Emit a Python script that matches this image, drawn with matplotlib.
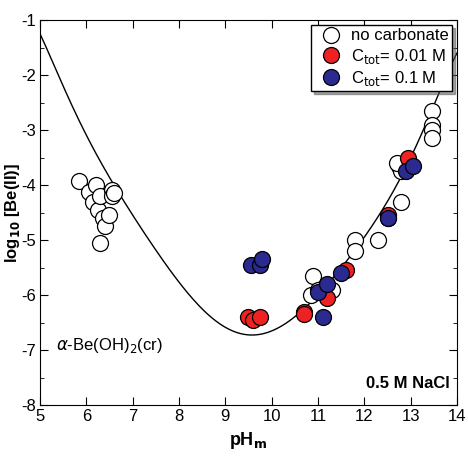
import numpy as np
import matplotlib.pyplot as plt
from matplotlib.ticker import MultipleLocator

# solubility curve
curve_ph = [5, 5.5, 6, 6.5, 7, 7.5, 8, 8.5, 9, 9.5, 10, 10.5, 11, 11.5, 12, 12.5, 13, 13.5, 14]
curve_be = [-1.25, -2.2, -3.1, -3.85, -4.55, -5.2, -5.75, -6.25, -6.6, -6.72, -6.65, -6.4,
            -6.0, -5.5, -4.95, -4.3, -3.5, -2.55, -1.6]

white_ph = [5.85, 6.05, 6.2, 6.15, 6.25, 6.3, 6.35, 6.4, 6.3, 6.55, 6.55, 6.5, 6.6,
            10.9, 10.85, 11.0, 11.3, 12.3, 11.8, 11.8, 12.8, 12.75, 12.8, 12.7,
            13.45, 13.45, 13.45, 13.45, 12.5]
white_be = [-3.93, -4.12, -4.0, -4.3, -4.45, -4.2, -4.6, -4.75, -5.05, -4.1, -4.2, -4.55, -4.15,
            -5.65, -6.0, -5.9, -5.9, -5.0, -5.0, -5.2, -4.3, -3.65, -3.75, -3.6,
            -2.65, -2.9, -3.0, -3.15, -4.6]
red_ph = [9.5, 9.6, 9.75, 10.7, 10.7, 11.2, 11.6, 12.95, 12.5]
red_be = [-6.4, -6.45, -6.4, -6.3, -6.35, -6.05, -5.55, -3.5, -4.55]
blue_ph = [9.55, 9.75, 9.8, 11.0, 11.1, 11.2, 11.5, 12.5, 12.9, 13.05]
blue_be = [-5.45, -5.45, -5.35, -5.95, -6.4, -5.8, -5.6, -4.6, -3.75, -3.65]

plt.rcParams['font.family'] = 'Liberation Sans'
plt.rcParams['axes.unicode_minus'] = False
fig = plt.figure(figsize=(4.68, 4.72), dpi=100)
ax = fig.add_axes([40/468, 1-405/472, 417/468, 385/472])

# smooth the read curve for display
coef = np.polyfit(curve_ph, curve_be, 8)
xs = np.linspace(5, 14, 300)
ax.plot(xs, np.polyval(coef, xs), color='black', lw=1, zorder=1)
ms = 11.5
ax.plot(white_ph, white_be, 'o', mfc='white', mec='black', ms=ms, mew=0.9, ls='none',
        label='no carbonate', zorder=2)
ax.plot(red_ph, red_be, 'o', mfc='#ee2222', mec='black', ms=ms, mew=0.9, ls='none',
        label=r'C$_{\rm tot}$= 0.01 M', zorder=3)
ax.plot(blue_ph, blue_be, 'o', mfc='#2a2a90', mec='black', ms=ms, mew=0.9, ls='none',
        label=r'C$_{\rm tot}$= 0.1 M', zorder=4)

ax.set_xlim(5, 14)
ax.set_ylim(-8, -1)
ax.xaxis.set_major_locator(MultipleLocator(1))
ax.yaxis.set_major_locator(MultipleLocator(1))
ax.yaxis.set_minor_locator(MultipleLocator(0.5))
ax.tick_params(which='both', direction='in', top=True, right=True, labelsize=12, pad=3)
ax.tick_params(which='major', length=6)
ax.tick_params(which='minor', length=3)
ax.set_xlabel(r'pH$_\mathbf{m}$', fontsize=13, fontweight='bold', labelpad=4)
ax.set_ylabel(r'log$_\mathbf{10}$ [Be(II)]', fontsize=12, fontweight='bold')
ax.yaxis.set_label_coords(-0.043, 0.5)

leg = ax.legend(loc='upper right', fontsize=12, frameon=True, fancybox=False, shadow=True,
                handletextpad=0.2, borderpad=0.2, labelspacing=0.2, borderaxespad=0.3)
leg.get_frame().set_edgecolor('black')
leg.get_frame().set_linewidth(1)

ax.text(5.35, -7.0, r'$\alpha$-Be(OH)$_2$(cr)', fontsize=12)
ax.text(13.85, -7.7, '0.5 M NaCl', fontsize=12, fontweight='bold', ha='right')

fig.savefig('out.png', dpi=100)
